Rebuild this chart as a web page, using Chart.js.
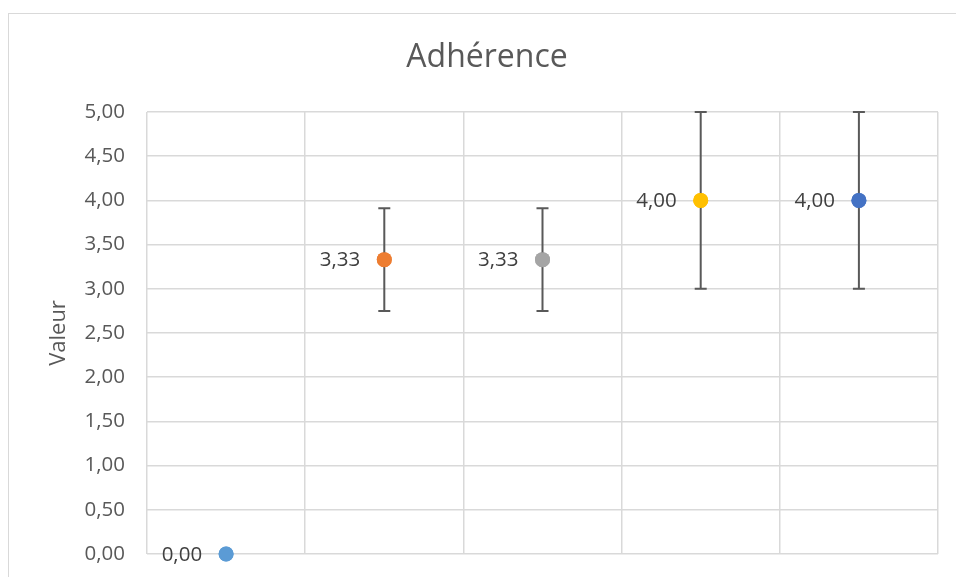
<!DOCTYPE html>
<html>
<head>
<meta charset="utf-8">
<script src="https://cdn.jsdelivr.net/npm/chart.js@4/dist/chart.umd.min.js"></script>
<style>
  html, body { margin: 0; padding: 0; background: #fff; overflow: hidden; }
  #wrap { position: relative; width: 956px; height: 577px; }
  #frame { position: absolute; left: 8px; top: 13px; width: 1000px; height: 1000px; border: 1.5px solid #d9d9d9; box-sizing: border-box; }
  canvas { position: absolute; left: 0; top: 0; }
</style>
</head>
<body>
<div id="wrap">
  <div id="frame"></div>
  <canvas id="chart" width="956" height="577"></canvas>
</div>
<script>
const chartTitle = 'Adhérence';
const axisTitle = 'Valeur';
const categories = ['1', '2', '3', '4', '5'];
const values = [0, 3.33, 3.33, 4, 4];
const errors = [0, 0.58, 0.58, 1, 1];
const colors = ['#5b9bd5', '#ed7d31', '#a5a5a5', '#ffc000', '#4472c4'];

const fmt = (v) => v.toFixed(2).replace('.', ',');
const FONT = '"Open Sans", "Liberation Sans", sans-serif';

const extras = {
  id: 'extras',
  afterDatasetsDraw(chart) {
    const { ctx, scales: { x, y } } = chart;
    ctx.save();
    // error bars
    ctx.strokeStyle = '#595959';
    ctx.lineWidth = 2;
    values.forEach((v, i) => {
      if (!errors[i]) return;
      const px = x.getPixelForValue(i);
      const top = y.getPixelForValue(v + errors[i]);
      const bot = y.getPixelForValue(v - errors[i]);
      ctx.beginPath();
      ctx.moveTo(px, top); ctx.lineTo(px, bot);
      ctx.moveTo(px - 6, top); ctx.lineTo(px + 6, top);
      ctx.moveTo(px - 6, bot); ctx.lineTo(px + 6, bot);
      ctx.stroke();
    });
    // points drawn again on top of error bars
    values.forEach((v, i) => {
      ctx.fillStyle = colors[i];
      ctx.beginPath();
      ctx.arc(x.getPixelForValue(i), y.getPixelForValue(v), 7.5, 0, Math.PI * 2);
      ctx.fill();
    });
    // data labels
    ctx.fillStyle = '#404040';
    ctx.font = '20.5px ' + FONT;
    ctx.textAlign = 'right';
    ctx.textBaseline = 'middle';
    values.forEach((v, i) => {
      ctx.fillText(fmt(v), x.getPixelForValue(i) - 24, y.getPixelForValue(v) + 1);
    });
    // title
    ctx.fillStyle = '#595959';
    ctx.font = '32px ' + FONT;
    ctx.textAlign = 'center';
    ctx.fillText(chartTitle, 487, 58);
    // y axis title
    ctx.font = '22px ' + FONT;
    ctx.translate(59, (y.top + y.bottom) / 2);
    ctx.rotate(-Math.PI / 2);
    ctx.fillText(axisTitle, 0, 0);
    ctx.restore();
  }
};

new Chart(document.getElementById('chart'), {
  type: 'line',
  data: {
    labels: categories,
    datasets: [{
      data: values,
      showLine: false,
      pointRadius: 7.5,
      pointBorderWidth: 0,
      pointBackgroundColor: colors,
      pointBorderColor: colors,
      clip: false
    }]
  },
  options: {
    responsive: false,
    animation: false,
    layout: { padding: { left: 0, right: 18, top: 112, bottom: 23 } },
    plugins: { legend: { display: false }, tooltip: { enabled: false }, title: { display: false } },
    scales: {
      x: {
        offset: true,
        ticks: { display: false },
        grid: { offset: true, color: '#d9d9d9', lineWidth: 1.5, drawTicks: false },
        border: { display: false },
        afterFit(s) { s.height = 0; s.paddingLeft = 0; s.paddingRight = 0; }
      },
      y: {
        min: 0, max: 5,
        ticks: { stepSize: 0.5, padding: 22, color: '#595959', font: { family: FONT, size: 20.5 }, callback: (v) => fmt(v) },
        grid: { color: '#d9d9d9', lineWidth: 1.5, drawTicks: false },
        border: { display: false },
        afterFit(s) { s.width = 147; s.paddingTop = 0; s.paddingBottom = 0; }
      }
    }
  },
  plugins: [extras]
});
</script>
</body>
</html>
